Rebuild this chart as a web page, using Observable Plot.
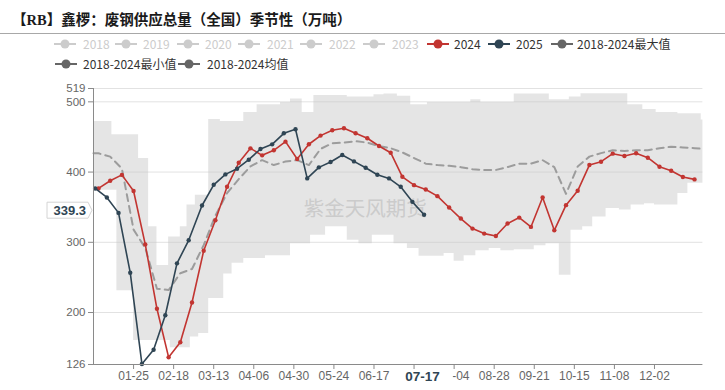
<!DOCTYPE html>
<html>
<head>
<meta charset="utf-8">
<script src="https://cdn.jsdelivr.net/npm/d3@7"></script>
<script src="https://cdn.jsdelivr.net/npm/@observablehq/plot@0.6"></script>
<style>
  html,body{margin:0;padding:0;background:#fff;}
  body{width:725px;height:390px;overflow:hidden;font-family:"Noto Sans CJK SC","Noto Sans",sans-serif;}
  #header{position:relative;width:725px;height:75px;}
  #title{position:absolute;left:12px;top:10px;font-weight:bold;font-size:14.5px;font-family:"Liberation Serif","Noto Sans CJK SC",serif;color:#1a1a1a;white-space:nowrap;line-height:20px;}
  #rule{position:absolute;left:0;top:33px;width:725px;height:1px;background:#a8a8a8;}
  .item{position:absolute;height:16px;line-height:16px;font-size:12px;white-space:nowrap;}
  .item svg{position:absolute;left:0;top:2px;}
  .item span{position:absolute;top:0;}
  #chart svg{display:block;}
</style>
</head>
<body>
<div id="header">
  <div id="title">【RB】鑫椤：废钢供应总量（全国）季节性（万吨）</div>
  <div id="rule"></div>
</div>
<div id="chart"></div>
<script>
// ---------------- data ----------------
const title = "【RB】鑫椤：废钢供应总量（全国）季节性（万吨）";
const watermark = "紫金天风期货";

const dates2024 = ["01-04","01-11","01-18","01-25","02-01","02-08","02-15","02-22","02-29","03-07","03-14","03-21","03-28","04-04","04-11","04-18","04-25","05-02","05-09","05-16","05-23","05-30","06-06","06-13","06-20","06-27","07-04","07-11","07-18","07-25","08-01","08-08","08-15","08-22","08-29","09-05","09-12","09-19","09-26","10-03","10-10","10-17","10-24","10-31","11-07","11-14","11-21","11-28","12-05","12-12","12-19","12-26"];
const values2024 = [376.7,387.6,396,373,297,205.3,136.2,157.6,214.3,288,331.4,379,413.3,433.8,423.8,431,443.3,418.6,439.6,451.9,459.5,462.4,455.2,448.1,437.1,427.6,393.3,381.4,375.2,365.7,349.5,333.8,319.5,312.4,309,326.7,335.2,321.9,363.8,317.1,352.9,373.3,410,414.8,426.2,422.9,426.7,420.5,407.6,401.9,392.9,389.6];

const dates2025 = ["01-02","01-09","01-16","01-23","01-30","02-06","02-13","02-20","02-27","03-06","03-13","03-20","03-27","04-03","04-10","04-17","04-24","05-01","05-08","05-15","05-22","05-29","06-05","06-12","06-19","06-26","07-03","07-10","07-17"];
const values2025 = [376.7,363.9,341.9,256.7,126.7,147.1,196.1,270,302.9,352.4,381.9,396.7,404.8,417.6,432.9,439.5,455.2,461,391,406.7,414.3,424.3,415.2,406.1,396.2,391,379,357.6,339.3];

const meanDates = ["01-01"].concat(dates2024, ["12-31"]);
const meanValues = [426.7,426.7,422,405,318,292,234,232,256,262,296,338,370,390,408,417,410,415,417,410,433,441,442,444,442,437,434,428,420,412,410,409,407,404,403,403,407,412,412,417,407,369,408,422,427,431,430,431,431,434,436,435,434,433];

const maxDates = ["01-01","01-12","01-28","02-03","02-08","02-15","02-22","02-26","03-02","03-10","03-17","03-31","04-08","04-22","04-28","05-05","05-12","06-01","06-17","06-23","07-01","07-09","07-19","08-14","08-20","09-09","09-30","10-12","10-19","11-16","11-25","12-03","12-16","12-30","12-31"];
const maxValues = [472,453,419.5,322,267,307.6,322,353,367,475,472,485,496,499,504,485,509,507,510,511,508,496,499,503,499,511,503,507,511.4,496,489,485,483,474,474];

const minDates = ["01-01","01-15","01-25","02-16","02-28","03-04","03-10","03-19","03-24","03-31","04-13","04-28","05-10","05-19","06-01","06-08","06-16","06-29","07-07","07-14","07-29","08-04","08-10","08-17","08-25","09-01","09-09","09-21","09-28","10-06","10-13","10-20","10-26","11-03","11-11","11-18","11-26","12-02","12-16","12-22","12-31"];
const minValues = [374,231,160,150,165,170,220,255,270,277,281,298,310,322,303,298,310,298,291,280,284,273,281,288,291,288,289.5,295,298,253,317,322,336,348,346,353,355,353,369.5,384,384];

const xTickLabels = ["01-25","02-18","03-13","04-06","04-30","05-24","06-17","07-11","08-04","08-28","09-21","10-15","11-08","12-02"];
const xHiddenLabels = ["07-11"]; // covered by the pointer label in the reference
const yTickValues = [126,200,300,400,500,519];
const yGridValues = [200,300,400,500,519];

const legendNames = ["2018","2019","2020","2021","2022","2023","2024","2025","2018-2024最大值","2018-2024最小值","2018-2024均值"];
const legendOn = [false,false,false,false,false,false,true,true,true,true,true];

// ---------------- styles / layout ----------------
const color2024 = "#c23531", color2025 = "#2f4554", colorStat = "#666666", colorOff = "#cccccc";
const legendColors = [colorOff,colorOff,colorOff,colorOff,colorOff,colorOff,color2024,color2025,colorStat,colorStat,colorStat];
const legendLayout = [[65,83,43.5],[126,143,43.5],[188,205,43.5],[249,267,43.5],[311,329,43.5],[374,392,43.5],[437.5,454,43.5],[499,516,43.5],[561.5,577,43.5],[66,83,63.5],[189,207,63.5]];

const header = document.getElementById("header");
legendNames.forEach((name, i) => {
  const [ic, tx, cyy] = legendLayout[i];
  const div = document.createElement("div");
  div.className = "item";
  div.style.left = (ic - 11) + "px";
  div.style.top = (cyy - 8) + "px";
  const c = legendColors[i];
  div.innerHTML = `<svg width="22" height="12"><line x1="0" x2="22" y1="6" y2="6" stroke="${c}" stroke-width="2"/><circle cx="11" cy="6" r="4.5" fill="${c}"/></svg><span style="left:${tx - (ic - 11)}px;color:${legendOn[i] ? "#333" : "#ccc"}">${name}</span>`;
  header.appendChild(div);
});

// ---------------- build tables ----------------
const parse = s => new Date(Date.UTC(2024, +s.slice(0, 2) - 1, +s.slice(3)));
const s2024 = dates2024.map((d, i) => ({date: parse(d), value: values2024[i]}));
const s2025 = dates2025.map((d, i) => ({date: parse(d), value: values2025[i]}));
const meanRows = meanDates.map((d, i) => ({date: parse(d), value: meanValues[i]}));
const maxRows = maxDates.map((d, i) => ({t: +parse(d), v: maxValues[i]}));
const minRows = minDates.map((d, i) => ({t: +parse(d), v: minValues[i]}));
const times = Array.from(new Set(maxRows.concat(minRows).map(r => r.t))).sort((a, b) => a - b);
const stepAt = (rows, t) => { let v = rows[0].v; for (const r of rows) if (r.t <= t) v = r.v; return v; };
const band = times.map(t => ({date: new Date(t), min: stepAt(minRows, t), max: stepAt(maxRows, t)}));

const fontFam = '"Noto Sans CJK SC","Noto Sans",sans-serif';
const axisFont = '"Liberation Sans","Noto Sans",sans-serif';
const fmt = d3.utcFormat("%m-%d");
const xLabel = d => xHiddenLabels.includes(fmt(d)) ? "" : fmt(d);

const plot = Plot.plot({
  width: 725, height: 315,
  marginLeft: 93, marginRight: 22.6, marginTop: 13, marginBottom: 26,
  style: {fontFamily: axisFont, fontSize: "12px", background: "#fff", overflow: "visible"},
  x: {type: "utc", domain: [parse("01-01"), parse("12-31")]},
  y: {type: "linear", domain: [126, 519]},
  marks: [
    Plot.gridY(yGridValues, {stroke: "#e2e2e2", strokeOpacity: 1, strokeWidth: 1}),
    Plot.areaY(band, {x: "date", y1: "min", y2: "max", curve: "step-after", fill: "#c6c6c6", fillOpacity: 0.45}),
    Plot.text([watermark], {text: d => d, frameAnchor: "middle", dx: -33, dy: -17, fontSize: 20.5, fontFamily: fontFam, fill: "#c4c4c4", fillOpacity: 0.8}),
    Plot.lineY(meanRows, {x: "date", y: "value", stroke: "#9c9c9c", strokeWidth: 2, strokeDasharray: "7,5"}),
    Plot.lineY(s2024, {x: "date", y: "value", stroke: color2024, strokeWidth: 1.6}),
    Plot.dot(s2024, {x: "date", y: "value", r: 2.2, fill: color2024, stroke: "none"}),
    Plot.lineY(s2025, {x: "date", y: "value", stroke: color2025, strokeWidth: 1.6}),
    Plot.dot(s2025, {x: "date", y: "value", r: 2.2, fill: color2025, stroke: "none"}),
    Plot.ruleY([126], {stroke: "#8a8a8a"}),
    Plot.ruleX([parse("01-01")], {stroke: "#8a8a8a"}),
    Plot.axisX(xTickLabels.map(parse), {tickFormat: xLabel, tickSize: 5, tickPadding: 2, stroke: "#8a8a8a", fill: "#666", fontSize: 12, label: null}),
    Plot.axisY(yTickValues, {tickSize: 5, tickPadding: 3, stroke: "#8a8a8a", fill: "#666", fontSize: 11.5, label: null})
  ]
});
document.getElementById("chart").appendChild(plot);

// axis-pointer labels for the latest 2025 point
const svg = d3.select(plot);
const sx = plot.scale("x"), sy = plot.scale("y");
const last = s2025[s2025.length - 1];
const cx = sx.apply(last.date);
const g = svg.append("g");
g.append("rect").attr("x", cx - 28).attr("y", 294.5).attr("width", 57).attr("height", 20.5).attr("fill", "#fff");
g.append("text").attr("x", cx - 1).attr("y", 301.5).attr("text-anchor", "middle").attr("dominant-baseline", "central")
  .attr("font-weight", "bold").attr("font-size", 13.5).attr("font-family", axisFont).attr("fill", color2025).text(fmt(last.date));
const cy = sy.apply(last.value) - 4;
g.append("path").attr("d", `M47,${cy - 8}H88L92,${cy}L88,${cy + 8}H47Z`).attr("fill", "#fff").attr("stroke", "#d4d4d4");
g.append("text").attr("x", 86).attr("y", cy).attr("text-anchor", "end").attr("dominant-baseline", "central")
  .attr("font-weight", "bold").attr("font-size", 13).attr("font-family", axisFont).attr("fill", color2025).text(last.value.toFixed(1));
</script>
</body>
</html>
